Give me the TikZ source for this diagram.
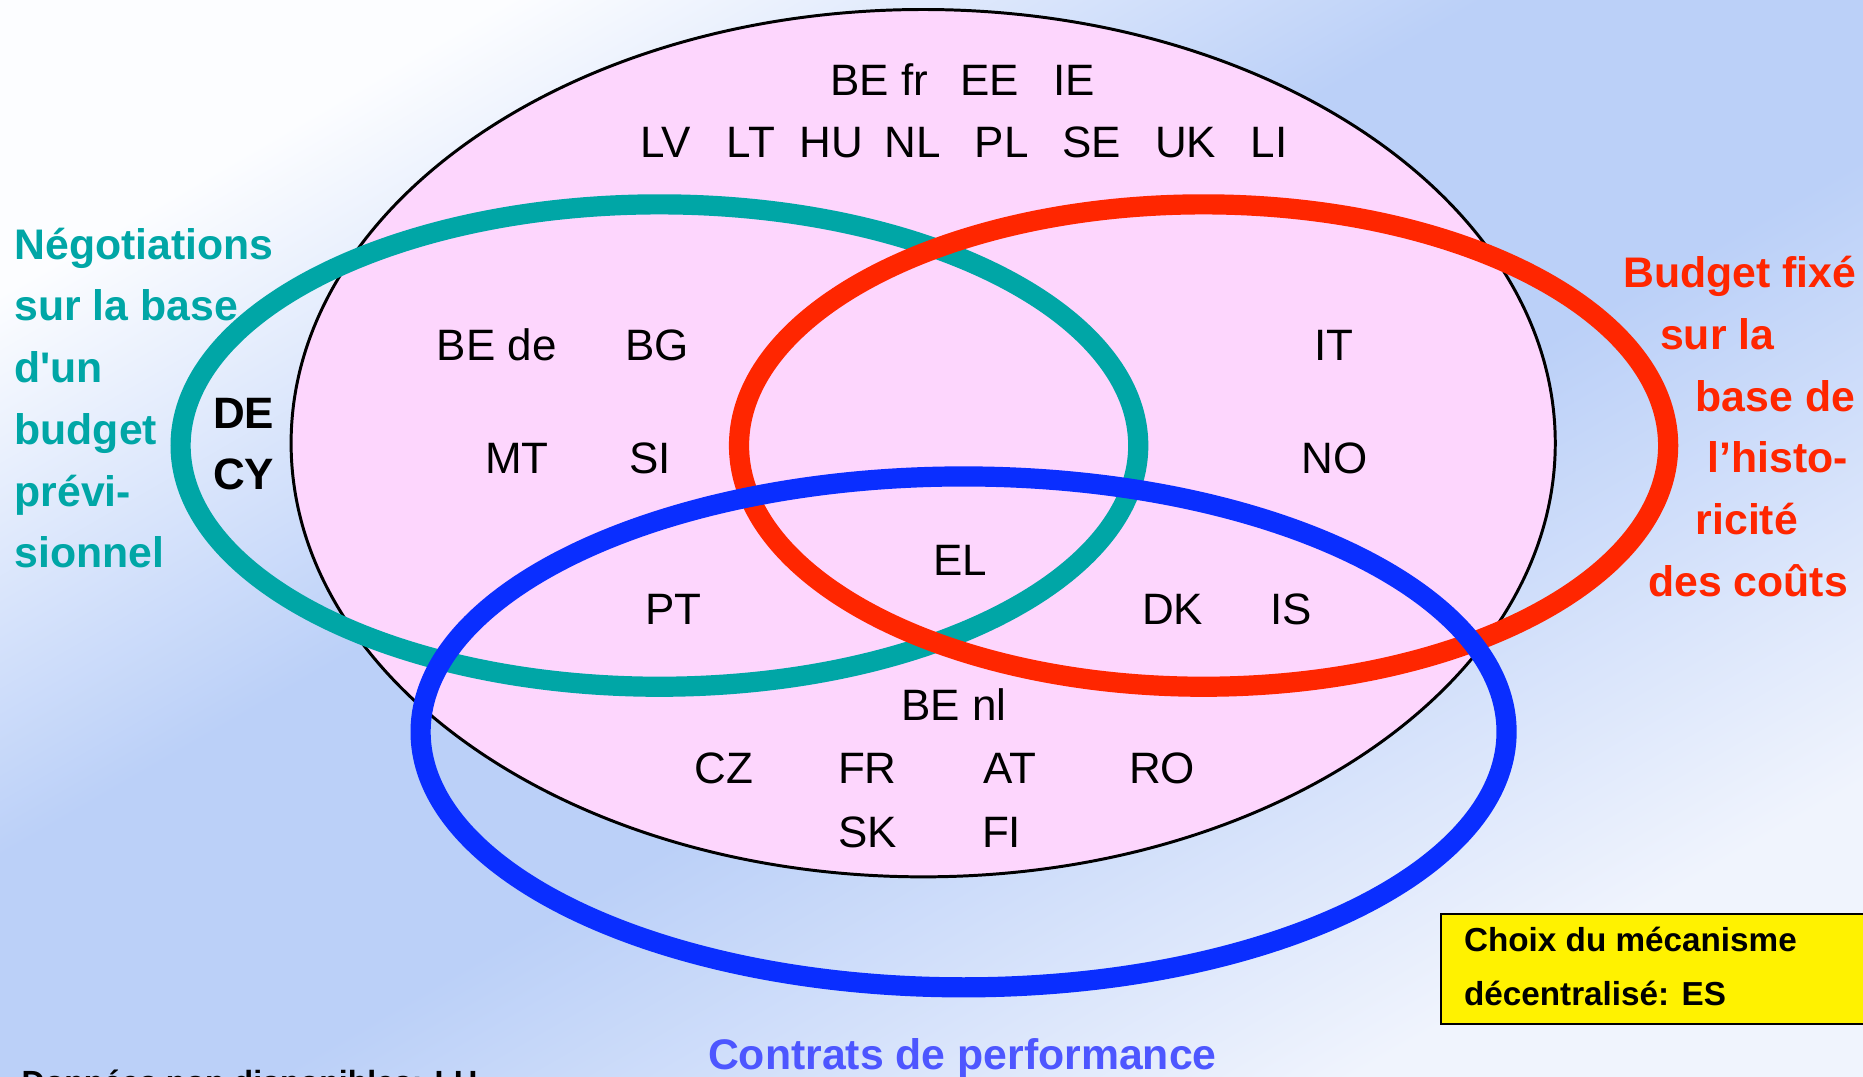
\documentclass[tikz,border=0pt]{standalone}
\usepackage{fontspec}
\setmainfont{Liberation Sans}[Ligatures=TeXOff]
\definecolor{bgblue}{RGB}{187,208,248}
\definecolor{bgtl}{RGB}{252,253,255}
\definecolor{bgbr}{RGB}{240,244,253}
\definecolor{pinkfill}{RGB}{253,214,253}
\definecolor{tealc}{RGB}{0,166,166}
\definecolor{redc}{RGB}{255,38,0}
\definecolor{bluec}{RGB}{10,46,255}
\definecolor{labelblue}{RGB}{77,86,255}
\pgfdeclareverticalshading{bgshade}{100bp}{color(0bp)=(bgbr); color(25bp)=(bgbr); color(45bp)=(bgblue); color(57bp)=(bgblue); color(75bp)=(bgtl); color(100bp)=(bgtl)}
\tikzset{
  ctry/.style={font=\fontsize{37}{44}\selectfont, inner sep=0pt, text height=26.5pt, text depth=0pt, anchor=center},
  ctrybold/.style={ctry, font=\fontsize{37}{44}\selectfont\bfseries},
  teallbl/.style={font=\fontsize{36}{44}\selectfont\bfseries, text=tealc, inner sep=0pt, anchor=base west},
  redlbl/.style={font=\fontsize{36}{44}\selectfont\bfseries, text=redc, inner sep=0pt, anchor=base west},
  boxtxt/.style={font=\fontsize{28}{33}\selectfont\bfseries, inner sep=0pt, anchor=base west},
  ring/.style={line width=17pt}
}
\begin{document}
\begin{tikzpicture}[x=1pt,y=-1pt]
\clip (0,0) rectangle (1568,906.45);
\useasboundingbox (0,0) rectangle (1568,906.45);
% background
\shade[shading=bgshade, shading angle=30] (0,0) rectangle (1568,906.45);
% main ellipse
\draw[fill=pinkfill, line width=2.5pt] (777,373) ellipse [x radius=532, y radius=365];
% rings
\draw[ring, tealc] (555,375) ellipse [x radius=403, y radius=203];
\draw[ring, redc] (1013,375) ellipse [x radius=391, y radius=203];
\draw[ring, bluec] (811,616) ellipse [x radius=457, y radius=215];
% countries
\node[ctry] (befr) at (740,67) {BE fr};
\node[ctry] (ee) at (833,67) {EE};
\node[ctry] (ie) at (904,67) {IE};
\node[ctry] (lv) at (560,119) {LV};
\node[ctry] (lt) at (632,119) {LT};
\node[ctry] (hu) at (700,119) {HU};
\node[ctry] (nl) at (768,119) {NL};
\node[ctry] (pl) at (843,119) {PL};
\node[ctry] (se) at (919,119) {SE};
\node[ctry] (uk) at (998,119) {UK};
\node[ctry] (li) at (1068,119) {LI};
\node[ctry] (bede) at (418,290) {BE de};
\node[ctry] (bg) at (553,290) {BG};
\node[ctry] (it) at (1123,290) {IT};
\node[ctry] (mt) at (435,385) {MT};
\node[ctry] (si) at (547,385) {SI};
\node[ctry] (no) at (1123,385) {NO};
\node[ctrybold] (de) at (205,347) {DE};
\node[ctrybold] (cy) at (205,399) {CY};
\node[ctry] (el) at (808,471) {EL};
\node[ctry] (pt) at (567,512) {PT};
\node[ctry] (dk) at (987,512) {DK};
\node[ctry] (is) at (1087,512) {IS};
\node[ctry] (benl) at (803,593) {BE nl};
\node[ctry] (cz) at (609,646) {CZ};
\node[ctry] (fr) at (730,646) {FR};
\node[ctry] (at) at (850,646) {AT};
\node[ctry] (ro) at (978,646) {RO};
\node[ctry] (sk) at (730,700) {SK};
\node[ctry] (fi) at (843,700) {FI};
% teal label
\node[teallbl] (t1) at (12,218) {Négotiations};
\node[teallbl] (t2) at (12,270) {sur la base};
\node[teallbl] (t3) at (12,322) {d'un};
\node[teallbl] (t4) at (12,374) {budget};
\node[teallbl] (t5) at (12,426) {prévi-};
\node[teallbl] (t6) at (12,478) {sionnel};
% red label
\node[redlbl] (r1) at (1366,242) {Budget fixé};
\node[redlbl] (r2) at (1397,294) {sur la};
\node[redlbl] (r3) at (1427,346) {base de};
\node[redlbl] (r4) at (1437,398) {l’histo-};
\node[redlbl] (r5) at (1427,450) {ricité};
\node[redlbl] (r6) at (1387,502) {des coûts};
% blue label
\node[font=\fontsize{36}{44}\selectfont\bfseries, text=labelblue, inner sep=0pt, anchor=base] (bl) at (810,900) {Contrats de performance};
% yellow box
\draw[fill=yellow, line width=1.5pt] (1213,769) rectangle (1580,862);
\node[boxtxt] (y1) at (1232,801) {Choix du mécanisme};
\node[boxtxt] (y2) at (1232,846) {décentralisé: ES};
% footnote (cut off by the lower edge, as in the reference)
\node[boxtxt, font=\fontsize{27}{33}\selectfont\bfseries] (foot) at (18,920.5) {Données non disponibles: LU};
\end{tikzpicture}
\end{document}
